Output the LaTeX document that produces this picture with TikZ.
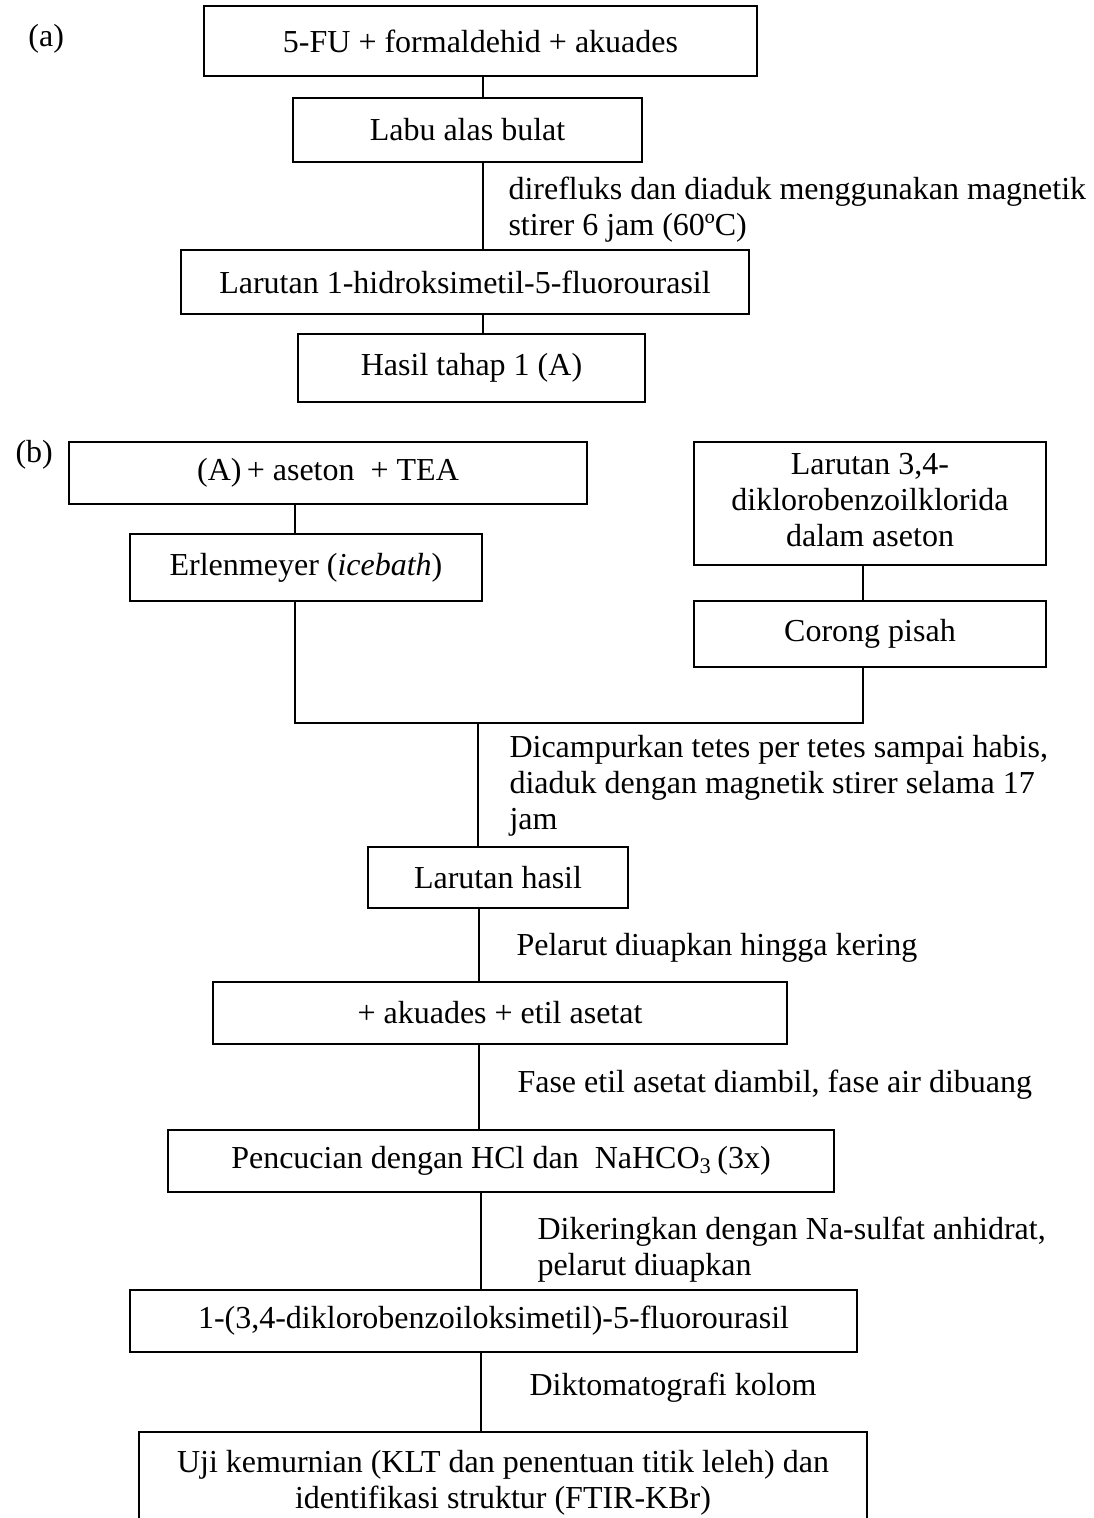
\documentclass[tikz,border=0pt]{standalone}
\usepackage{fontspec}
\setmainfont{Liberation Serif}
\begin{document}
\begin{tikzpicture}[x=0.4pt,y=-0.4pt,
  every node/.style={font=\fontsize{12.8}{14.4}\selectfont},
  box/.style={draw,line width=0.8pt,inner sep=0pt,align=center},
  lbl/.style={anchor=base west,inner sep=0pt},
  conn/.style={line width=0.6pt}]
\fill[white] (0,0) rectangle (1093,1518);
\clip (0,0) rectangle (1093,1518);
% (a)
\node[lbl] (la) at (28,47) {(a)};
\node[box,minimum width=221.2pt,minimum height=28pt] (n1) at (480.5,41) {5-FU + formaldehid + akuades};
\node[box,minimum width=139.6pt,minimum height=25.6pt] (n2) at (467.5,130) {Labu alas bulat};
\node[box,minimum width=227.2pt,minimum height=25.6pt] (n3) at (465,282) {Larutan 1-hidroksimetil-5-fluorourasil};
\node[box,minimum width=138.8pt,minimum height=27.2pt] (n4) at (471.5,368) {Hasil tahap 1 (A)};
\node[lbl] (l1) at (508,200) {\begin{tabular}[t]{@{}l@{}}direfluks dan diaduk menggunakan magnetik\\ stirer 6 jam (60ºC)\end{tabular}};
\coordinate (sa) at (483,0);
\draw[conn] (n1.south -| sa) -- (n2.north -| sa);
\draw[conn] (n2.south -| sa) -- (n3.north -| sa);
\draw[conn] (n3.south -| sa) -- (n4.north -| sa);
% (b)
\node[lbl] (lb) at (15,462) {(b)};
\node[box,minimum width=207.2pt,minimum height=24.8pt] (n5) at (328,473) {(A)\,+ aseton\ \ + TEA};
\node[box,minimum width=140.8pt,minimum height=26.8pt] (n6) at (306,567.5) {Erlenmeyer (\textit{icebath})};
\node[box,minimum width=140.8pt,minimum height=49.2pt] (n7) at (870,503.5) {\begin{tabular}{@{}c@{}}Larutan 3,4-\\ diklorobenzoilklorida\\ dalam aseton\end{tabular}};
\node[box,minimum width=140.8pt,minimum height=26.4pt] (n8) at (870,634) {Corong pisah};
\coordinate (sl) at (295,723);
\coordinate (sr) at (863,723);
\coordinate (sm) at (478,723);
\draw[conn] (n5.south -| sl) -- (n6.north -| sl);
\draw[conn] (n7.south -| sr) -- (n8.north -| sr);
\draw[conn] (n6.south -| sl) -- (sl) -- (sr) -- (n8.south -| sr);
\node[lbl] (l2) at (509,757) {\begin{tabular}[t]{@{}l@{}}Dicampurkan tetes per tetes sampai habis,\\ diaduk dengan magnetik stirer selama 17\\ jam\end{tabular}};
\node[box,minimum width=104pt,minimum height=24.4pt] (n9) at (498,877.5) {Larutan hasil};
\draw[conn] (sm) -- (n9.north -| sm);
\coordinate (sb) at (479,0);
\coordinate (sc) at (481,0);
\node[lbl] (l3) at (516,955) {Pelarut diuapkan hingga kering};
\node[box,minimum width=229.6pt,minimum height=24.8pt] (n10) at (500,1013) {+ akuades + etil asetat};
\node[lbl] (l4) at (517,1092) {Fase etil asetat diambil, fase air dibuang};
\node[box,minimum width=266.4pt,minimum height=24.8pt] (n11) at (501,1161) {Pencucian dengan HCl dan\ \ NaHCO\textsubscript{3}\,(3x)};
\node[lbl] (l5) at (537,1239) {\begin{tabular}[t]{@{}l@{}}Dikeringkan dengan Na-sulfat anhidrat,\\ pelarut diuapkan\end{tabular}};
\node[box,minimum width=290.8pt,minimum height=24.8pt] (n12) at (493.5,1321) {1-(3,4-diklorobenzoiloksimetil)-5-fluorourasil};
\node[lbl] (l6) at (529,1395) {Diktomatografi kolom};
\node[box,minimum width=291.4pt,minimum height=50pt,anchor=north] (n13) at (503,1431) {};
\node[anchor=base,inner sep=0pt] (n13t) at (503,1472) {\begin{tabular}[t]{@{}c@{}}Uji kemurnian (KLT dan penentuan titik leleh) dan\\ identifikasi struktur (FTIR-KBr)\end{tabular}};
\draw[conn] (n9.south -| sb) -- (n10.north -| sb);
\draw[conn] (n10.south -| sb) -- (n11.north -| sb);
\draw[conn] (n11.south -| sc) -- (n12.north -| sc);
\draw[conn] (n12.south -| sc) -- (n13.north -| sc);
\end{tikzpicture}
\end{document}
